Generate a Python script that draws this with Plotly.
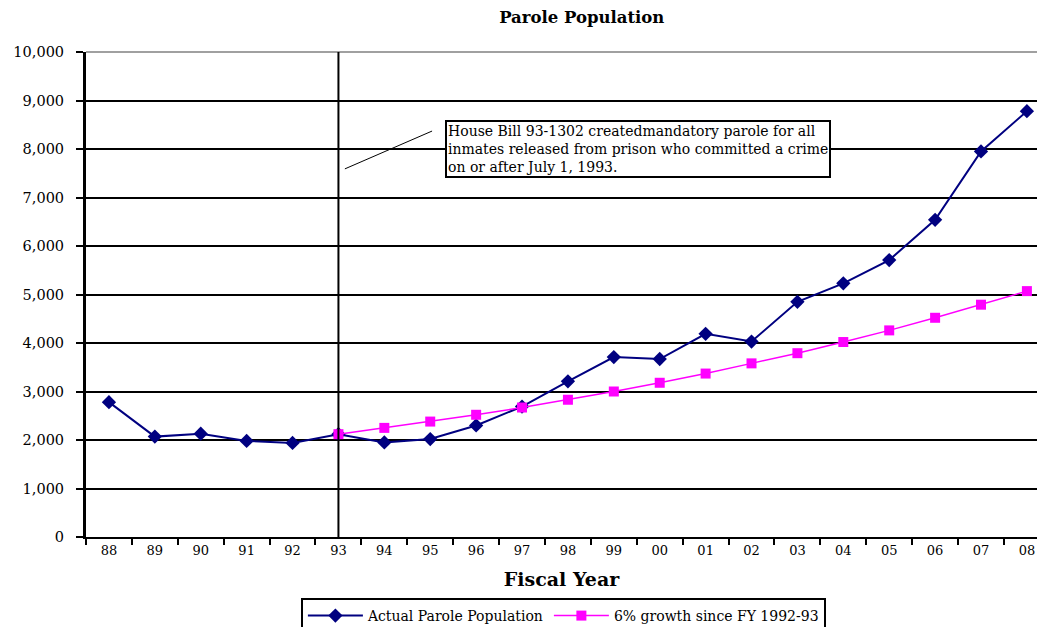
"""
Parole Population chart
Actual parole population vs. 6% growth projection since FY 1992-93
"""

import plotly.graph_objects as go

# Fiscal years (category labels)
years = ['88', '89', '90', '91', '92', '93', '94', '95', '96', '97', '98',
         '99', '00', '01', '02', '03', '04', '05', '06', '07', '08']

# Actual parole population, FY 88 - FY 08
actual = [2780, 2070, 2130, 1980, 1940, 2120, 1950, 2020, 2300, 2690, 3210,
          3710, 3670, 4190, 4030, 4850, 5230, 5710, 6540, 7950, 8780]

# 6% growth projection starting at FY 93
growth_years = years[5:]
growth = [2120, 2250, 2380, 2520, 2670, 2830, 3000, 3180, 3370, 3580, 3790,
          4020, 4260, 4520, 4790, 5070]

y_ticks = [0, 1000, 2000, 3000, 4000, 5000, 6000, 7000, 8000, 9000, 10000]

note = ('House Bill 93-1302 createdmandatory parole for all<br>'
        'inmates released from prison who committed a crime<br>'
        'on or after July 1, 1993.')

SERIF = 'DejaVu Serif'

fig = go.Figure()

fig.add_trace(go.Scatter(
    x=years,
    y=actual,
    mode='lines+markers',
    name='Actual Parole Population',
    line=dict(color='#000080', width=2),
    marker=dict(symbol='diamond', size=11, color='#000080')
))

fig.add_trace(go.Scatter(
    x=growth_years,
    y=growth,
    mode='lines+markers',
    name='6% growth since FY 1992-93',
    line=dict(color='#FF00FF', width=1.5),
    marker=dict(symbol='square', size=10, color='#FF00FF')
))

# gray frame line along the top of the plot
fig.add_shape(type='line', xref='paper', yref='paper', x0=0, x1=1, y0=1, y1=1,
              line=dict(color='#808080', width=1.5))

# vertical marker at FY 93
x93 = years.index('93')
fig.add_shape(type='line', xref='x', yref='paper', x0=x93, x1=x93, y0=0, y1=1,
              line=dict(color='black', width=2))

# pointer line next to the note
fig.add_shape(type='line', xref='x', yref='y', x0=5.14, y0=7590, x1=7.04, y1=8370,
              line=dict(color='black', width=1))

# note box
fig.add_annotation(
    x=7.32, y=8600, xref='x', yref='y', xanchor='left', yanchor='top',
    text=note, showarrow=False, align='left',
    font=dict(family=SERIF, size=14, color='black'),
    bordercolor='black', borderwidth=2, borderpad=1, bgcolor='white'
)

fig.update_layout(
    width=1037,
    height=627,
    margin=dict(l=86, r=0, t=52, b=90, autoexpand=False),
    paper_bgcolor='white',
    plot_bgcolor='white',
    title=dict(text='<b>Parole Population</b>', x=0.561, xanchor='center',
               y=1 - 17 / 627, yanchor='middle',
               font=dict(family=SERIF, size=16.5, color='black')),
    font=dict(family=SERIF, size=13, color='black'),
    showlegend=True,
    legend=dict(orientation='h', x=0.502, xanchor='center', y=-61 / 485, yanchor='top',
                bordercolor='black', borderwidth=2, bgcolor='white',
                font=dict(family=SERIF, size=14), itemwidth=55, tracegroupgap=0),
    xaxis=dict(
        type='category',
        range=[-0.5, 20.22],
        tickson='boundaries',
        ticks='outside', ticklen=6, tickwidth=2, tickcolor='black',
        showgrid=False,
        showline=True, linecolor='black', linewidth=2,
        tickfont=dict(family=SERIF, size=13),
        title=dict(text='<b>Fiscal Year</b>', font=dict(family=SERIF, size=19), standoff=16)
    ),
    yaxis=dict(
        range=[0, 10000],
        tickvals=y_ticks,
        tickformat=',',
        ticks='outside', ticklen=7, tickwidth=2, tickcolor='black',
        showgrid=True, gridcolor='black', gridwidth=2,
        showline=True, linecolor='black', linewidth=3,
        zeroline=False,
        tickfont=dict(family=SERIF, size=14.5),
        ticklabelstandoff=9
    )
)

# drop the default body margin so the figure fills the window without scaling
fig.write_html("out.html", config={'displayModeBar': False},
               post_script="document.body.style.margin = '0';")
